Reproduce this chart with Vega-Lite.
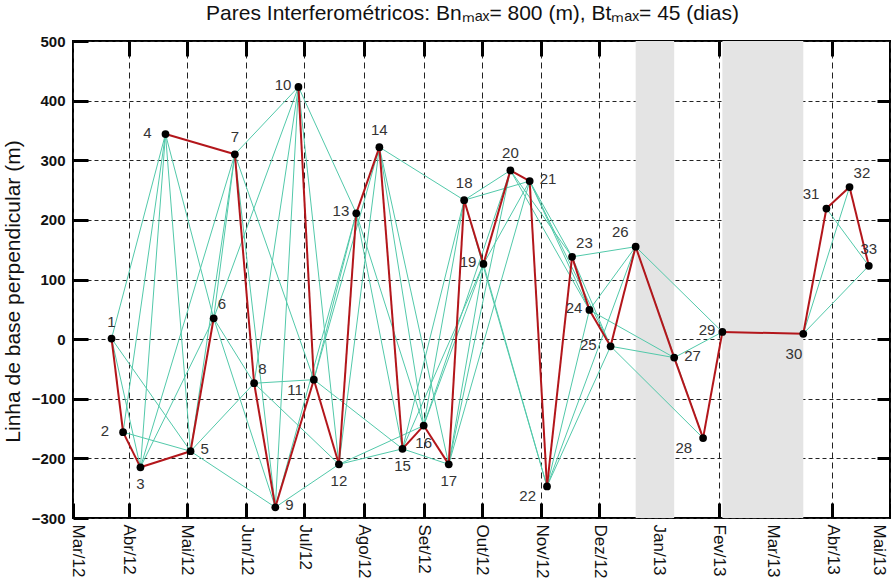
{
  "$schema": "https://vega.github.io/schema/vega-lite/v6.json",
  "width": 817,
  "height": 477,
  "autosize": {"type": "none"},
  "padding": {"left": 73, "top": 41, "right": 1, "bottom": 67},
  "background": "white",
  "title": {
    "text": "Pares Interferométricos: Bnₘₐₓ= 800 (m),  Btₘₐₓ= 45 (dias)",
    "font": "Liberation Sans",
    "fontSize": 21,
    "fontWeight": "normal",
    "color": "#111",
    "anchor": "middle",
    "dx": -9,
    "offset": 10
  },
  "config": {
    "view": {"stroke": "black", "strokeWidth": 2},
    "axis": {"domain": false, "tickColor": "black", "labelColor": "#111", "titleColor": "#111"}
  },
  "datasets": {
    "points": [
      {"id": 1, "date": "2012-03-23", "bn": 1},
      {"id": 2, "date": "2012-03-29", "bn": -156},
      {"id": 3, "date": "2012-04-07", "bn": -215},
      {"id": 4, "date": "2012-04-20", "bn": 344},
      {"id": 5, "date": "2012-05-03", "bn": -188},
      {"id": 6, "date": "2012-05-15", "bn": 35},
      {"id": 7, "date": "2012-05-26", "bn": 310},
      {"id": 8, "date": "2012-06-05", "bn": -74},
      {"id": 9, "date": "2012-06-16", "bn": -282},
      {"id": 10, "date": "2012-06-28", "bn": 423},
      {"id": 11, "date": "2012-07-06", "bn": -68},
      {"id": 12, "date": "2012-07-19", "bn": -210},
      {"id": 13, "date": "2012-07-28", "bn": 211},
      {"id": 14, "date": "2012-08-09", "bn": 322},
      {"id": 15, "date": "2012-08-21", "bn": -184},
      {"id": 16, "date": "2012-09-01", "bn": -145},
      {"id": 17, "date": "2012-09-14", "bn": -210},
      {"id": 18, "date": "2012-09-22", "bn": 233},
      {"id": 19, "date": "2012-10-02", "bn": 126},
      {"id": 20, "date": "2012-10-16", "bn": 283},
      {"id": 21, "date": "2012-10-26", "bn": 265},
      {"id": 22, "date": "2012-11-04", "bn": -247},
      {"id": 23, "date": "2012-11-17", "bn": 138},
      {"id": 24, "date": "2012-11-26", "bn": 49},
      {"id": 25, "date": "2012-12-07", "bn": -12},
      {"id": 26, "date": "2012-12-20", "bn": 155},
      {"id": 27, "date": "2013-01-09", "bn": -31},
      {"id": 28, "date": "2013-01-24", "bn": -166},
      {"id": 29, "date": "2013-02-03", "bn": 12},
      {"id": 30, "date": "2013-03-17", "bn": 9},
      {"id": 31, "date": "2013-03-29", "bn": 219},
      {"id": 32, "date": "2013-04-10", "bn": 255},
      {"id": 33, "date": "2013-04-20", "bn": 123}
    ],
    "pairs": [
      {"a": 1, "b": 3, "d1": "2012-03-23", "b1": 1, "d2": "2012-04-07", "b2": -215},
      {"a": 1, "b": 4, "d1": "2012-03-23", "b1": 1, "d2": "2012-04-20", "b2": 344},
      {"a": 1, "b": 5, "d1": "2012-03-23", "b1": 1, "d2": "2012-05-03", "b2": -188},
      {"a": 2, "b": 4, "d1": "2012-03-29", "b1": -156, "d2": "2012-04-20", "b2": 344},
      {"a": 2, "b": 5, "d1": "2012-03-29", "b1": -156, "d2": "2012-05-03", "b2": -188},
      {"a": 3, "b": 4, "d1": "2012-04-07", "b1": -215, "d2": "2012-04-20", "b2": 344},
      {"a": 3, "b": 6, "d1": "2012-04-07", "b1": -215, "d2": "2012-05-15", "b2": 35},
      {"a": 3, "b": 7, "d1": "2012-04-07", "b1": -215, "d2": "2012-05-26", "b2": 310},
      {"a": 4, "b": 5, "d1": "2012-04-20", "b1": 344, "d2": "2012-05-03", "b2": -188},
      {"a": 4, "b": 6, "d1": "2012-04-20", "b1": 344, "d2": "2012-05-15", "b2": 35},
      {"a": 5, "b": 7, "d1": "2012-05-03", "b1": -188, "d2": "2012-05-26", "b2": 310},
      {"a": 5, "b": 8, "d1": "2012-05-03", "b1": -188, "d2": "2012-06-05", "b2": -74},
      {"a": 5, "b": 9, "d1": "2012-05-03", "b1": -188, "d2": "2012-06-16", "b2": -282},
      {"a": 6, "b": 7, "d1": "2012-05-15", "b1": 35, "d2": "2012-05-26", "b2": 310},
      {"a": 6, "b": 8, "d1": "2012-05-15", "b1": 35, "d2": "2012-06-05", "b2": -74},
      {"a": 6, "b": 9, "d1": "2012-05-15", "b1": 35, "d2": "2012-06-16", "b2": -282},
      {"a": 6, "b": 10, "d1": "2012-05-15", "b1": 35, "d2": "2012-06-28", "b2": 423},
      {"a": 7, "b": 9, "d1": "2012-05-26", "b1": 310, "d2": "2012-06-16", "b2": -282},
      {"a": 7, "b": 10, "d1": "2012-05-26", "b1": 310, "d2": "2012-06-28", "b2": 423},
      {"a": 7, "b": 11, "d1": "2012-05-26", "b1": 310, "d2": "2012-07-06", "b2": -68},
      {"a": 8, "b": 10, "d1": "2012-06-05", "b1": -74, "d2": "2012-06-28", "b2": 423},
      {"a": 8, "b": 11, "d1": "2012-06-05", "b1": -74, "d2": "2012-07-06", "b2": -68},
      {"a": 8, "b": 12, "d1": "2012-06-05", "b1": -74, "d2": "2012-07-19", "b2": -210},
      {"a": 9, "b": 10, "d1": "2012-06-16", "b1": -282, "d2": "2012-06-28", "b2": 423},
      {"a": 9, "b": 12, "d1": "2012-06-16", "b1": -282, "d2": "2012-07-19", "b2": -210},
      {"a": 9, "b": 13, "d1": "2012-06-16", "b1": -282, "d2": "2012-07-28", "b2": 211},
      {"a": 10, "b": 12, "d1": "2012-06-28", "b1": 423, "d2": "2012-07-19", "b2": -210},
      {"a": 10, "b": 13, "d1": "2012-06-28", "b1": 423, "d2": "2012-07-28", "b2": 211},
      {"a": 11, "b": 13, "d1": "2012-07-06", "b1": -68, "d2": "2012-07-28", "b2": 211},
      {"a": 11, "b": 14, "d1": "2012-07-06", "b1": -68, "d2": "2012-08-09", "b2": 322},
      {"a": 11, "b": 15, "d1": "2012-07-06", "b1": -68, "d2": "2012-08-21", "b2": -184},
      {"a": 12, "b": 14, "d1": "2012-07-19", "b1": -210, "d2": "2012-08-09", "b2": 322},
      {"a": 12, "b": 15, "d1": "2012-07-19", "b1": -210, "d2": "2012-08-21", "b2": -184},
      {"a": 12, "b": 16, "d1": "2012-07-19", "b1": -210, "d2": "2012-09-01", "b2": -145},
      {"a": 13, "b": 15, "d1": "2012-07-28", "b1": 211, "d2": "2012-08-21", "b2": -184},
      {"a": 13, "b": 16, "d1": "2012-07-28", "b1": 211, "d2": "2012-09-01", "b2": -145},
      {"a": 14, "b": 16, "d1": "2012-08-09", "b1": 322, "d2": "2012-09-01", "b2": -145},
      {"a": 14, "b": 17, "d1": "2012-08-09", "b1": 322, "d2": "2012-09-14", "b2": -210},
      {"a": 14, "b": 18, "d1": "2012-08-09", "b1": 322, "d2": "2012-09-22", "b2": 233},
      {"a": 15, "b": 17, "d1": "2012-08-21", "b1": -184, "d2": "2012-09-14", "b2": -210},
      {"a": 15, "b": 18, "d1": "2012-08-21", "b1": -184, "d2": "2012-09-22", "b2": 233},
      {"a": 15, "b": 19, "d1": "2012-08-21", "b1": -184, "d2": "2012-10-02", "b2": 126},
      {"a": 16, "b": 18, "d1": "2012-09-01", "b1": -145, "d2": "2012-09-22", "b2": 233},
      {"a": 16, "b": 19, "d1": "2012-09-01", "b1": -145, "d2": "2012-10-02", "b2": 126},
      {"a": 16, "b": 20, "d1": "2012-09-01", "b1": -145, "d2": "2012-10-16", "b2": 283},
      {"a": 17, "b": 19, "d1": "2012-09-14", "b1": -210, "d2": "2012-10-02", "b2": 126},
      {"a": 17, "b": 20, "d1": "2012-09-14", "b1": -210, "d2": "2012-10-16", "b2": 283},
      {"a": 17, "b": 21, "d1": "2012-09-14", "b1": -210, "d2": "2012-10-26", "b2": 265},
      {"a": 18, "b": 20, "d1": "2012-09-22", "b1": 233, "d2": "2012-10-16", "b2": 283},
      {"a": 18, "b": 21, "d1": "2012-09-22", "b1": 233, "d2": "2012-10-26", "b2": 265},
      {"a": 18, "b": 22, "d1": "2012-09-22", "b1": 233, "d2": "2012-11-04", "b2": -247},
      {"a": 19, "b": 21, "d1": "2012-10-02", "b1": 126, "d2": "2012-10-26", "b2": 265},
      {"a": 19, "b": 22, "d1": "2012-10-02", "b1": 126, "d2": "2012-11-04", "b2": -247},
      {"a": 20, "b": 23, "d1": "2012-10-16", "b1": 283, "d2": "2012-11-17", "b2": 138},
      {"a": 20, "b": 24, "d1": "2012-10-16", "b1": 283, "d2": "2012-11-26", "b2": 49},
      {"a": 21, "b": 23, "d1": "2012-10-26", "b1": 265, "d2": "2012-11-17", "b2": 138},
      {"a": 21, "b": 24, "d1": "2012-10-26", "b1": 265, "d2": "2012-11-26", "b2": 49},
      {"a": 21, "b": 25, "d1": "2012-10-26", "b1": 265, "d2": "2012-12-07", "b2": -12},
      {"a": 22, "b": 24, "d1": "2012-11-04", "b1": -247, "d2": "2012-11-26", "b2": 49},
      {"a": 22, "b": 25, "d1": "2012-11-04", "b1": -247, "d2": "2012-12-07", "b2": -12},
      {"a": 22, "b": 26, "d1": "2012-11-04", "b1": -247, "d2": "2012-12-20", "b2": 155},
      {"a": 23, "b": 25, "d1": "2012-11-17", "b1": 138, "d2": "2012-12-07", "b2": -12},
      {"a": 23, "b": 26, "d1": "2012-11-17", "b1": 138, "d2": "2012-12-20", "b2": 155},
      {"a": 24, "b": 26, "d1": "2012-11-26", "b1": 49, "d2": "2012-12-20", "b2": 155},
      {"a": 24, "b": 27, "d1": "2012-11-26", "b1": 49, "d2": "2013-01-09", "b2": -31},
      {"a": 25, "b": 27, "d1": "2012-12-07", "b1": -12, "d2": "2013-01-09", "b2": -31},
      {"a": 25, "b": 28, "d1": "2012-12-07", "b1": -12, "d2": "2013-01-24", "b2": -166},
      {"a": 26, "b": 28, "d1": "2012-12-20", "b1": 155, "d2": "2013-01-24", "b2": -166},
      {"a": 26, "b": 29, "d1": "2012-12-20", "b1": 155, "d2": "2013-02-03", "b2": 12},
      {"a": 27, "b": 29, "d1": "2013-01-09", "b1": -31, "d2": "2013-02-03", "b2": 12},
      {"a": 30, "b": 32, "d1": "2013-03-17", "b1": 9, "d2": "2013-04-10", "b2": 255},
      {"a": 30, "b": 33, "d1": "2013-03-17", "b1": 9, "d2": "2013-04-20", "b2": 123},
      {"a": 31, "b": 33, "d1": "2013-03-29", "b1": 219, "d2": "2013-04-20", "b2": 123}
    ],
    "chain": [
      {"a": 1, "b": 2, "d1": "2012-03-23", "b1": 1, "d2": "2012-03-29", "b2": -156},
      {"a": 2, "b": 3, "d1": "2012-03-29", "b1": -156, "d2": "2012-04-07", "b2": -215},
      {"a": 3, "b": 5, "d1": "2012-04-07", "b1": -215, "d2": "2012-05-03", "b2": -188},
      {"a": 5, "b": 6, "d1": "2012-05-03", "b1": -188, "d2": "2012-05-15", "b2": 35},
      {"a": 4, "b": 7, "d1": "2012-04-20", "b1": 344, "d2": "2012-05-26", "b2": 310},
      {"a": 7, "b": 8, "d1": "2012-05-26", "b1": 310, "d2": "2012-06-05", "b2": -74},
      {"a": 8, "b": 9, "d1": "2012-06-05", "b1": -74, "d2": "2012-06-16", "b2": -282},
      {"a": 9, "b": 11, "d1": "2012-06-16", "b1": -282, "d2": "2012-07-06", "b2": -68},
      {"a": 10, "b": 11, "d1": "2012-06-28", "b1": 423, "d2": "2012-07-06", "b2": -68},
      {"a": 11, "b": 12, "d1": "2012-07-06", "b1": -68, "d2": "2012-07-19", "b2": -210},
      {"a": 12, "b": 13, "d1": "2012-07-19", "b1": -210, "d2": "2012-07-28", "b2": 211},
      {"a": 13, "b": 14, "d1": "2012-07-28", "b1": 211, "d2": "2012-08-09", "b2": 322},
      {"a": 14, "b": 15, "d1": "2012-08-09", "b1": 322, "d2": "2012-08-21", "b2": -184},
      {"a": 15, "b": 16, "d1": "2012-08-21", "b1": -184, "d2": "2012-09-01", "b2": -145},
      {"a": 16, "b": 17, "d1": "2012-09-01", "b1": -145, "d2": "2012-09-14", "b2": -210},
      {"a": 17, "b": 18, "d1": "2012-09-14", "b1": -210, "d2": "2012-09-22", "b2": 233},
      {"a": 18, "b": 19, "d1": "2012-09-22", "b1": 233, "d2": "2012-10-02", "b2": 126},
      {"a": 19, "b": 20, "d1": "2012-10-02", "b1": 126, "d2": "2012-10-16", "b2": 283},
      {"a": 20, "b": 21, "d1": "2012-10-16", "b1": 283, "d2": "2012-10-26", "b2": 265},
      {"a": 21, "b": 22, "d1": "2012-10-26", "b1": 265, "d2": "2012-11-04", "b2": -247},
      {"a": 22, "b": 23, "d1": "2012-11-04", "b1": -247, "d2": "2012-11-17", "b2": 138},
      {"a": 23, "b": 24, "d1": "2012-11-17", "b1": 138, "d2": "2012-11-26", "b2": 49},
      {"a": 24, "b": 25, "d1": "2012-11-26", "b1": 49, "d2": "2012-12-07", "b2": -12},
      {"a": 25, "b": 26, "d1": "2012-12-07", "b1": -12, "d2": "2012-12-20", "b2": 155},
      {"a": 26, "b": 27, "d1": "2012-12-20", "b1": 155, "d2": "2013-01-09", "b2": -31},
      {"a": 27, "b": 28, "d1": "2013-01-09", "b1": -31, "d2": "2013-01-24", "b2": -166},
      {"a": 28, "b": 29, "d1": "2013-01-24", "b1": -166, "d2": "2013-02-03", "b2": 12},
      {"a": 29, "b": 30, "d1": "2013-02-03", "b1": 12, "d2": "2013-03-17", "b2": 9},
      {"a": 30, "b": 31, "d1": "2013-03-17", "b1": 9, "d2": "2013-03-29", "b2": 219},
      {"a": 31, "b": 32, "d1": "2013-03-29", "b1": 219, "d2": "2013-04-10", "b2": 255},
      {"a": 32, "b": 33, "d1": "2013-04-10", "b1": 255, "d2": "2013-04-20", "b2": 123}
    ],
    "gaps": [
      {"start": "2012-12-20", "end": "2013-01-09"},
      {"start": "2013-02-03", "end": "2013-03-17"}
    ]
  },
  "resolve": {"axis": {"x": "independent", "y": "independent"}},
  "layer": [
    {
      "data": {"name": "gaps"},
      "mark": {"type": "rect", "color": "#e4e4e4"},
      "encoding": {
        "x": {
          "field": "start", "type": "temporal",
          "scale": {"type": "utc", "domain": [{"year": 2012, "month": 3, "date": 3, "utc": true}, {"year": 2013, "month": 5, "date": 1, "utc": true}]},
          "axis": {
            "orient": "bottom", "title": null,
            "values": [
              {"year": 2012, "month": 3, "date": 3, "utc": true},
              {"year": 2012, "month": 4, "date": 1, "utc": true},
              {"year": 2012, "month": 5, "date": 1, "utc": true},
              {"year": 2012, "month": 6, "date": 1, "utc": true},
              {"year": 2012, "month": 7, "date": 1, "utc": true},
              {"year": 2012, "month": 8, "date": 1, "utc": true},
              {"year": 2012, "month": 9, "date": 1, "utc": true},
              {"year": 2012, "month": 10, "date": 1, "utc": true},
              {"year": 2012, "month": 11, "date": 1, "utc": true},
              {"year": 2012, "month": 12, "date": 1, "utc": true},
              {"year": 2013, "month": 1, "date": 1, "utc": true},
              {"year": 2013, "month": 2, "date": 1, "utc": true},
              {"year": 2013, "month": 3, "date": 1, "utc": true},
              {"year": 2013, "month": 4, "date": 1, "utc": true},
              {"year": 2013, "month": 5, "date": 1, "utc": true}
            ],
            "labelExpr": "['Jan','Fev','Mar','Abr','Mai','Jun','Jul','Ago','Set','Out','Nov','Dez'][utcmonth(datum.value)] + '/' + utcFormat(datum.value, '%y')",
            "labelAngle": 90, "labelAlign": "left", "labelBaseline": "middle",
            "labelFont": "Liberation Sans", "labelFontSize": 17,
            "labelPadding": 21,
            "labelOffset": {"condition": [{"test": "datum.value > 1366000000000", "value": -12}, {"test": "datum.value < 1331000000000", "value": 4}], "value": 0},
            "labelOverlap": false, "labelFlush": false, "labelBound": false,
            "tickSize": -15, "tickWidth": 3,
            "grid": true, "gridColor": "#222", "gridDash": [6, 4], "gridWidth": 1
          }
        },
        "x2": {"field": "end"}
      }
    },
    {
      "data": {"name": "pairs"},
      "mark": {"type": "rule", "color": "#52c9aa", "strokeWidth": 1},
      "encoding": {
        "x": {
          "field": "d1", "type": "temporal",
          "axis": {
            "orient": "top", "title": null, "labels": false, "grid": false,
            "values": [
              {"year": 2012, "month": 4, "date": 1, "utc": true},
              {"year": 2012, "month": 5, "date": 1, "utc": true},
              {"year": 2012, "month": 6, "date": 1, "utc": true},
              {"year": 2012, "month": 7, "date": 1, "utc": true},
              {"year": 2012, "month": 8, "date": 1, "utc": true},
              {"year": 2012, "month": 9, "date": 1, "utc": true},
              {"year": 2012, "month": 10, "date": 1, "utc": true},
              {"year": 2012, "month": 11, "date": 1, "utc": true},
              {"year": 2012, "month": 12, "date": 1, "utc": true},
              {"year": 2013, "month": 1, "date": 1, "utc": true},
              {"year": 2013, "month": 2, "date": 1, "utc": true},
              {"year": 2013, "month": 3, "date": 1, "utc": true},
              {"year": 2013, "month": 4, "date": 1, "utc": true}
            ],
            "tickSize": -15, "tickWidth": 3
          }
        },
        "x2": {"field": "d2"},
        "y": {
          "field": "b1", "type": "quantitative",
          "scale": {"domain": [-300, 500], "nice": false, "zero": false},
          "axis": {
            "orient": "left",
            "values": [-300, -200, -100, 0, 100, 200, 300, 400, 500],
            "labelFont": "Liberation Sans", "labelFontSize": 15, "labelFontWeight": "bold",
            "labelPadding": 23, "tickSize": -15, "tickWidth": 3,
            "grid": true, "gridColor": "#222", "gridDash": [4, 3], "gridWidth": 1,
            "title": "Linha de base perpendicular  (m)",
            "titleFont": "Liberation Sans", "titleFontSize": 21, "titleFontWeight": "normal",
            "titleAngle": -90, "titleAlign": "center", "titleBaseline": "bottom",
            "titleX": -50, "titleY": 250
          }
        },
        "y2": {"field": "b2"}
      }
    },
    {
      "data": {"name": "chain"},
      "mark": {"type": "rule", "color": "#b3161b", "strokeWidth": 2},
      "encoding": {
        "x": {"field": "d1", "type": "temporal", "axis": null},
        "x2": {"field": "d2"},
        "y": {
          "field": "b1", "type": "quantitative",
          "axis": {
            "orient": "right", "title": null, "labels": false, "grid": false,
            "values": [-200, -100, 0, 100, 200, 300, 400],
            "tickSize": -13, "tickWidth": 3
          }
        },
        "y2": {"field": "b2"}
      }
    },
    {
      "data": {"name": "points"},
      "mark": {"type": "circle", "color": "black", "size": 60, "opacity": 1},
      "encoding": {
        "x": {"field": "date", "type": "temporal", "axis": null},
        "y": {"field": "bn", "type": "quantitative", "axis": null}
      }
    },
    {
      "data": {"name": "points"},
      "transform": [{"filter": {"field": "id", "oneOf": [1, 7, 14, 18, 20, 33]}}],
      "mark": {"type": "text", "font": "Liberation Sans", "fontSize": 15, "color": "#333", "align": "center", "baseline": "middle", "dy": -17},
      "encoding": {"x": {"field": "date", "type": "temporal", "axis": null}, "y": {"field": "bn", "type": "quantitative", "axis": null}, "text": {"field": "id"}}
    },
    {
      "data": {"name": "points"},
      "transform": [{"filter": {"field": "id", "oneOf": [3, 12, 15, 16, 17]}}],
      "mark": {"type": "text", "font": "Liberation Sans", "fontSize": 15, "color": "#333", "align": "center", "baseline": "middle", "dy": 17},
      "encoding": {"x": {"field": "date", "type": "temporal", "axis": null}, "y": {"field": "bn", "type": "quantitative", "axis": null}, "text": {"field": "id"}}
    },
    {
      "data": {"name": "points"},
      "transform": [{"filter": {"field": "id", "oneOf": [10, 13, 19, 24, 29]}}],
      "mark": {"type": "text", "font": "Liberation Sans", "fontSize": 15, "color": "#333", "align": "right", "baseline": "middle", "dx": -7, "dy": -2},
      "encoding": {"x": {"field": "date", "type": "temporal", "axis": null}, "y": {"field": "bn", "type": "quantitative", "axis": null}, "text": {"field": "id"}}
    },
    {
      "data": {"name": "points"},
      "transform": [{"filter": {"field": "id", "oneOf": [2, 4, 25]}}],
      "mark": {"type": "text", "font": "Liberation Sans", "fontSize": 15, "color": "#333", "align": "right", "baseline": "middle", "dx": -14, "dy": -1},
      "encoding": {"x": {"field": "date", "type": "temporal", "axis": null}, "y": {"field": "bn", "type": "quantitative", "axis": null}, "text": {"field": "id"}}
    },
    {
      "data": {"name": "points"},
      "transform": [{"filter": {"field": "id", "oneOf": [5, 9, 21, 27]}}],
      "mark": {"type": "text", "font": "Liberation Sans", "fontSize": 15, "color": "#333", "align": "left", "baseline": "middle", "dx": 10, "dy": -2},
      "encoding": {"x": {"field": "date", "type": "temporal", "axis": null}, "y": {"field": "bn", "type": "quantitative", "axis": null}, "text": {"field": "id"}}
    },
    {
      "data": {"name": "points"},
      "transform": [{"filter": {"field": "id", "oneOf": [6, 8, 23, 32]}}],
      "mark": {"type": "text", "font": "Liberation Sans", "fontSize": 15, "color": "#333", "align": "left", "baseline": "middle", "dx": 4, "dy": -14},
      "encoding": {"x": {"field": "date", "type": "temporal", "axis": null}, "y": {"field": "bn", "type": "quantitative", "axis": null}, "text": {"field": "id"}}
    },
    {
      "data": {"name": "points"},
      "transform": [{"filter": {"field": "id", "oneOf": [26, 31]}}],
      "mark": {"type": "text", "font": "Liberation Sans", "fontSize": 15, "color": "#333", "align": "right", "baseline": "middle", "dx": -7, "dy": -15},
      "encoding": {"x": {"field": "date", "type": "temporal", "axis": null}, "y": {"field": "bn", "type": "quantitative", "axis": null}, "text": {"field": "id"}}
    },
    {
      "data": {"name": "points"},
      "transform": [{"filter": {"field": "id", "oneOf": [11, 22, 28]}}],
      "mark": {"type": "text", "font": "Liberation Sans", "fontSize": 15, "color": "#333", "align": "right", "baseline": "middle", "dx": -11, "dy": 10},
      "encoding": {"x": {"field": "date", "type": "temporal", "axis": null}, "y": {"field": "bn", "type": "quantitative", "axis": null}, "text": {"field": "id"}}
    },
    {
      "data": {"name": "points"},
      "transform": [{"filter": {"field": "id", "oneOf": [30]}}],
      "mark": {"type": "text", "font": "Liberation Sans", "fontSize": 15, "color": "#333", "align": "right", "baseline": "middle", "dx": -1, "dy": 20},
      "encoding": {"x": {"field": "date", "type": "temporal", "axis": null}, "y": {"field": "bn", "type": "quantitative", "axis": null}, "text": {"field": "id"}}
    }
  ]
}
